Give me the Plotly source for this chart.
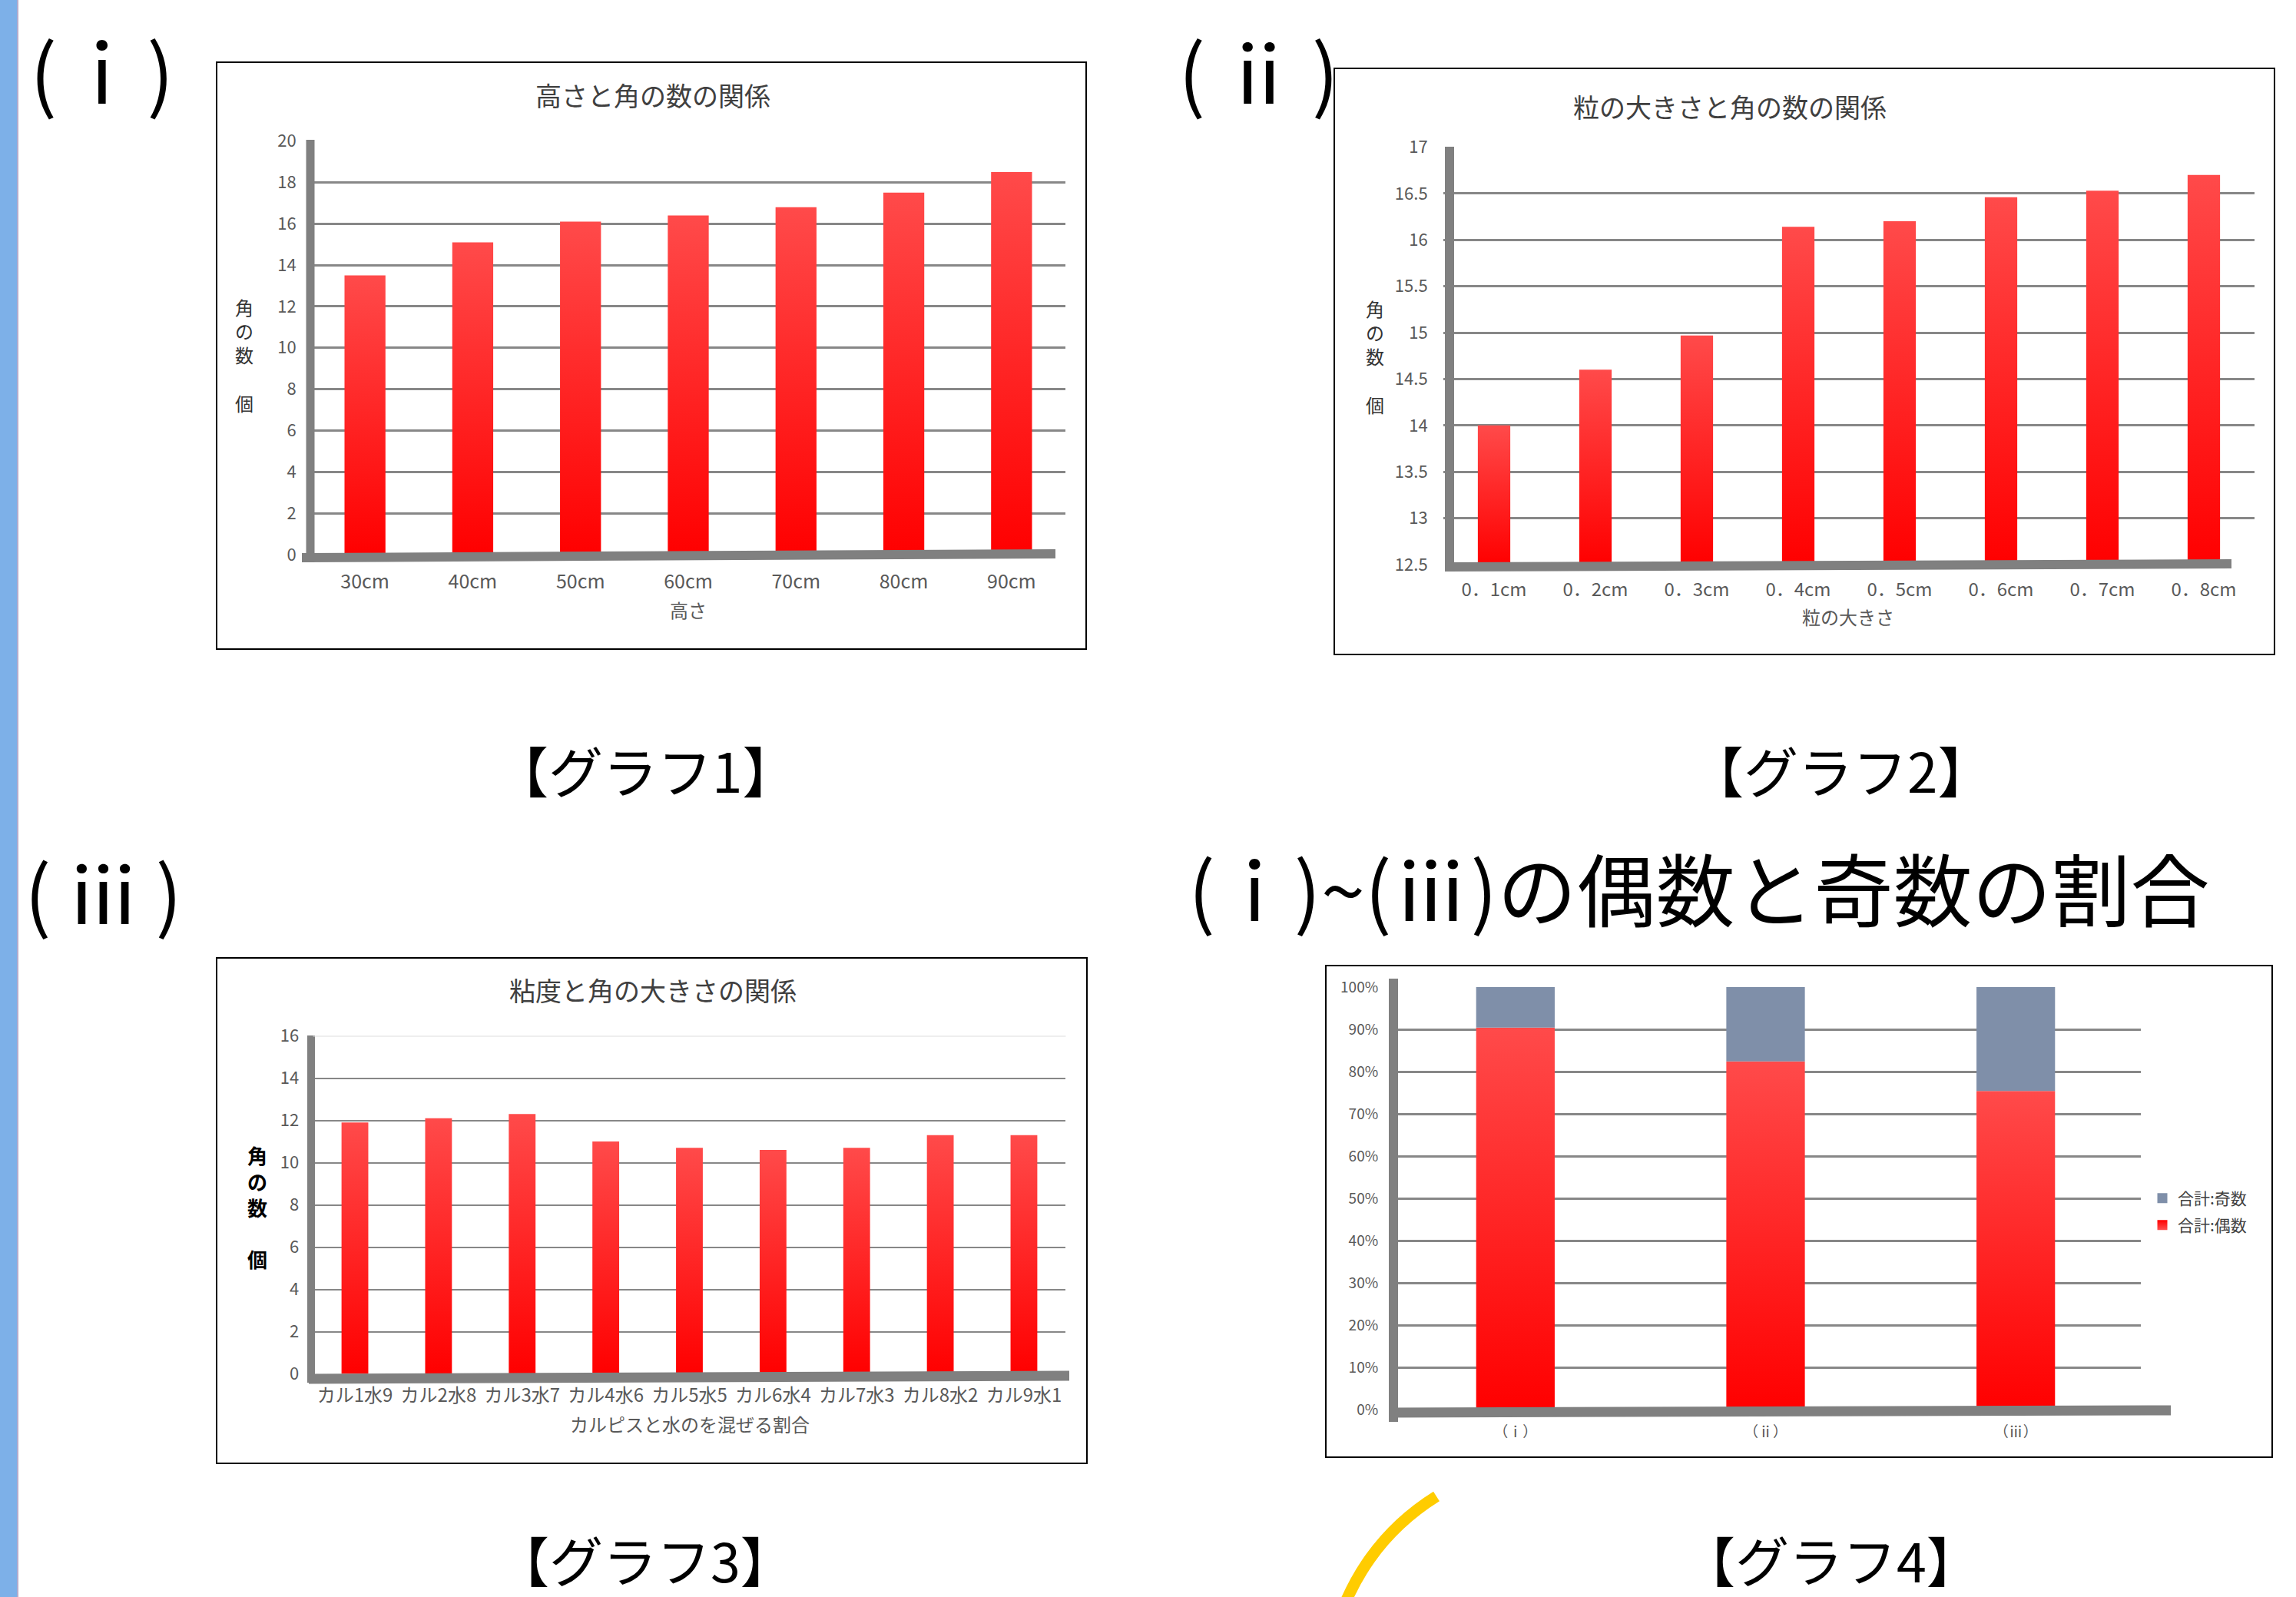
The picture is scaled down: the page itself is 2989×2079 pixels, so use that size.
import plotly.graph_objects as go

W, H = 2989, 2079
FONT = "Noto Sans CJK JP"

# ---- data -------------------------------------------------------------
# グラフ1: 高さと角の数
heights = ["30cm", "40cm", "50cm", "60cm", "70cm", "80cm", "90cm"]
corners_by_height = [13.5, 15.1, 16.1, 16.4, 16.8, 17.5, 18.5]
height_ticks = [0, 2, 4, 6, 8, 10, 12, 14, 16, 18, 20]

# グラフ2: 粒の大きさと角の数
grain_sizes = ["0．1cm", "0．2cm", "0．3cm", "0．4cm", "0．5cm", "0．6cm", "0．7cm", "0．8cm"]
corners_by_grain = [14.0, 14.6, 14.97, 16.14, 16.2, 16.46, 16.53, 16.7]
grain_ticks = [12.5, 13, 13.5, 14, 14.5, 15, 15.5, 16, 16.5, 17]

# グラフ3: 粘度と角の大きさ
mix_ratios = ["カル1水9", "カル2水8", "カル3水7", "カル4水6", "カル5水5",
              "カル6水4", "カル7水3", "カル8水2", "カル9水1"]
corners_by_mix = [11.9, 12.1, 12.3, 11.0, 10.7, 10.6, 10.7, 11.3, 11.3]
mix_ticks = [0, 2, 4, 6, 8, 10, 12, 14, 16]

# グラフ4: 偶数と奇数の割合 (%)
groups = ["（ⅰ）", "（ⅱ）", "（ⅲ）"]
even_share = [90.4, 82.4, 75.4]
odd_share = [9.6, 17.6, 24.6]
share_ticks = [0, 10, 20, 30, 40, 50, 60, 70, 80, 90, 100]
share_labels = [f"{v}%" for v in share_ticks]

# ---- styling ----------------------------------------------------------
RED_SCALE = [[0, "#FF0000"], [1, "#FF4A4A"]]
ODD_COLOR = "#7F8FA9"
GRID = "#878787"
AXIS_BAR = "#808080"
TICK_COLOR = "#595959"
TITLE_COLOR = "#404040"
SP = "\u2006"   # narrow space inside the section labels
HSP = "\u200a"  # hair space


def px(x):
    return x / W


def py(y):
    return 1 - y / H


fig = go.Figure()


def gradient_bar(i, base, top, half, xa, ya):
    fig.add_trace(go.Scatter(
        x=[i - half, i + half, i + half, i - half, i - half],
        y=[base, base, top, top, base],
        mode="lines", line=dict(width=0), fill="toself",
        fillcolor="#FF2020",
        fillgradient=dict(type="vertical", colorscale=RED_SCALE, start=base, stop=top),
        xaxis=xa, yaxis=ya, showlegend=False, hoverinfo="skip"))


def solid_bar(i, base, top, half, xa, ya, color):
    fig.add_trace(go.Scatter(
        x=[i - half, i + half, i + half, i - half, i - half],
        y=[base, base, top, top, base],
        mode="lines", line=dict(width=0), fill="toself", fillcolor=color,
        xaxis=xa, yaxis=ya, showlegend=False, hoverinfo="skip"))


# chart 1 bars
for i, v in enumerate(corners_by_height):
    gradient_bar(i, 0, v, 0.19, "x", "y")
# chart 2 bars (start at the axis minimum)
for i, v in enumerate(corners_by_grain):
    gradient_bar(i, grain_ticks[0], v, 0.16, "x2", "y2")
# chart 3 bars
for i, v in enumerate(corners_by_mix):
    gradient_bar(i, 0, v, 0.16, "x3", "y3")
# chart 4 stacked bars
for i, (e, o) in enumerate(zip(even_share, odd_share)):
    gradient_bar(i, 0, e, 0.157, "x4", "y4")
    solid_bar(i, e, e + o, 0.157, "x4", "y4", ODD_COLOR)

# legend entries for chart 4
fig.add_trace(go.Scatter(x=[None], y=[None], mode="markers", name="合計:奇数",
                         marker=dict(symbol="square", size=13, color=ODD_COLOR),
                         xaxis="x4", yaxis="y4", legend="legend"))
fig.add_trace(go.Scatter(x=[None], y=[None], mode="markers", name="合計:偶数",
                         marker=dict(symbol="square", size=13, color="#FF0000",
                                     gradient=dict(type="vertical", color="#FF5050")),
                         xaxis="x4", yaxis="y4", legend="legend2"))


def xaxis(dom, n, labels, anchor, ticklen, size=22):
    return dict(domain=[px(dom[0]), px(dom[1])], range=[-0.5, n - 0.5],
                tickvals=list(range(n)), ticktext=labels, anchor=anchor,
                showgrid=False, zeroline=False, showline=False, automargin=False,
                ticks="outside", ticklen=ticklen, tickcolor="rgba(0,0,0,0)",
                tickfont=dict(size=size, color=TICK_COLOR, family=FONT), fixedrange=True)


def yaxis(dom, rng, vals, anchor, ticklen, gw=3, size=22, text=None):
    d = dict(domain=[py(dom[0]), py(dom[1])], range=rng, tickvals=vals, anchor=anchor,
             showgrid=True, gridcolor=GRID, gridwidth=gw, zeroline=False, showline=False,
             automargin=False,
             ticks="outside", ticklen=ticklen, tickcolor="rgba(0,0,0,0)",
             tickfont=dict(size=size, color=TICK_COLOR, family=FONT), fixedrange=True)
    if text is not None:
        d["ticktext"] = text
    return d


layout = dict(
    width=W, height=H, autosize=False,
    margin=dict(l=0, r=0, t=0, b=0, pad=0, autoexpand=False),
    paper_bgcolor="white", plot_bgcolor="rgba(0,0,0,0)",
    font=dict(family=FONT, color="black"),
    xaxis=xaxis((405, 1387), len(heights), heights, "y", 13, size=25),
    yaxis=yaxis((722, 183.5), [0, 20], height_ticks, "x", 14),
    xaxis2=xaxis((1879, 2935), len(grain_sizes), grain_sizes, "y2", 11, size=24),
    yaxis2=yaxis((735, 191.5), [12.5, 17], grain_ticks, "x2", 15,
                 text=[f"{v:g}" for v in grain_ticks]),
    xaxis3=xaxis((407.6, 1387.4), len(mix_ratios), mix_ratios, "y3", 7, size=24),
    yaxis3=yaxis((1788.5, 1348.6), [0, 16], mix_ticks, "x3", 13, gw=2),
    xaxis4=xaxis((1810, 2787), len(groups), groups, "y4", 12, size=19),
    yaxis4=yaxis((1835, 1285), [0, 100], share_ticks, "x4", 11, gw=2.5, size=19,
                 text=share_labels),
    legend=dict(x=px(2795), y=py(1560), xanchor="left", yanchor="middle",
                font=dict(size=21, color=TITLE_COLOR, family=FONT),
                bgcolor="rgba(0,0,0,0)", borderwidth=0),
    legend2=dict(x=px(2795), y=py(1595), xanchor="left", yanchor="middle",
                 font=dict(size=21, color=TITLE_COLOR, family=FONT),
                 bgcolor="rgba(0,0,0,0)", borderwidth=0),
)
fig.update_layout(**layout)

shapes = []
# left accent strip
shapes.append(dict(type="rect", xref="paper", yref="paper", x0=0, x1=px(22), y0=0, y1=1,
                   fillcolor="#7DB0E8", line=dict(width=0), layer="below"))
shapes.append(dict(type="line", xref="paper", yref="paper", x0=px(23), x1=px(23), y0=0, y1=1,
                   line=dict(color="#B4ACCC", width=2)))

# chart frames
for x0, y0, x1, y1 in [(282, 81, 1414, 845), (1737, 89, 2961, 852),
                       (282, 1247, 1415, 1905), (1726, 1257, 2958, 1897)]:
    shapes.append(dict(type="rect", xref="paper", yref="paper",
                       x0=px(x0), x1=px(x1), y0=py(y1), y1=py(y0),
                       line=dict(color="black", width=2), fillcolor="rgba(0,0,0,0)"))

# thick grey axis bars (vertical) and slanted base bars
for x, ya, yb, w in [(404, 182, 732, 11), (1887, 191, 744, 12),
                     (405, 1348, 1800, 10), (1814, 1274, 1851, 12)]:
    shapes.append(dict(type="line", xref="paper", yref="paper", x0=px(x), x1=px(x),
                       y0=py(ya), y1=py(yb), line=dict(color=AXIS_BAR, width=w)))
for xa, ya, xb, yb, w in [(393, 726, 1374, 721, 12), (1883, 738, 2905, 734, 12),
                          (402, 1795, 1392, 1791, 13), (1808, 1839, 2826, 1836, 13)]:
    shapes.append(dict(type="line", xref="paper", yref="paper", x0=px(xa), x1=px(xb),
                       y0=py(ya), y1=py(yb), line=dict(color=AXIS_BAR, width=w)))

# faint top gridline of chart 3
shapes.append(dict(type="line", xref="x3 domain", yref="y3", x0=0, x1=1,
                   y0=mix_ticks[-1], y1=mix_ticks[-1],
                   line=dict(color="#DDDDDD", width=2)))

# yellow arc decoration
p0, p1, p2 = (1870, 1948), (1790, 1998), (1752, 2085)
shapes.append(dict(type="path", xref="paper", yref="paper",
                   path=f"M {px(p0[0])} {py(p0[1])} Q {px(p1[0])} {py(p1[1])} {px(p2[0])} {py(p2[1])}",
                   line=dict(color="#FFCC00", width=15)))
fig.update_layout(shapes=shapes)

ann = []


def text(x, y, s, size, color="black", xanchor="center", yanchor="middle"):
    ann.append(dict(x=px(x), y=py(y), xref="paper", yref="paper", text=s, showarrow=False,
                    xanchor=xanchor, yanchor=yanchor,
                    font=dict(size=size, color=color, family=FONT)))


# section headings
text(37, 89, f"({HSP}ｉ{HSP})", 104, xanchor="left")
text(1532, 90, f"({SP}ⅱ{SP})", 104, xanchor="left")
text(30, 1158, f"({SP}ⅲ{SP})", 102, xanchor="left")
text(1545, 1154, "(ｉ)~(ⅲ)の偶数と奇数の割合", 103, xanchor="left")

# captions
text(840, 1001, "【グラフ1】", 71)
text(2396, 1001, "【グラフ2】", 71)
text(840, 2029, "【グラフ3】", 70)
text(2383, 2029, "【グラフ4】", 70)

# chart titles
text(850, 124, "高さと角の数の関係", 34, TITLE_COLOR)
text(2252, 138, "粒の大きさと角の数の関係", 34, TITLE_COLOR)
text(850, 1288, "粘度と角の大きさの関係", 34, TITLE_COLOR)

# x-axis titles
text(896, 793, "高さ", 24, TICK_COLOR)
text(2406, 802, "粒の大きさ", 24, TICK_COLOR)
text(898, 1853, "カルピスと水のを混ぜる割合", 24, TICK_COLOR)

# vertical y-axis titles
text(318, 462, "角<br>の<br>数<br><br>個", 24, "#333333")
text(1790, 464, "角<br>の<br>数<br><br>個", 24, "#333333")
text(335, 1571, "<b>角<br>の<br>数<br><br>個</b>", 26, "black")

fig.update_layout(annotations=ann)

fig.write_html("out.html", post_script="document.body.style.margin='0';")
